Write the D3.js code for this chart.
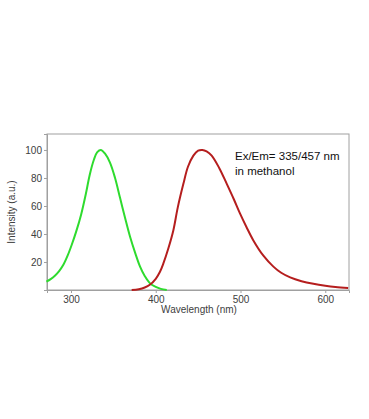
<!DOCTYPE html>
<html><head><meta charset="utf-8">
<script src="https://cdn.jsdelivr.net/npm/d3@7"></script>
<style>body{margin:0;background:#fff;} text{font-family:"Liberation Sans",Arial,sans-serif;}</style>
</head><body>
<svg id="c" width="369" height="419"></svg>
<script>
const xTicks = [300, 400, 500, 600];
const yTicks = [20, 40, 60, 80, 100];
const exWl = [271, 276, 281, 286, 291, 296, 301, 306, 312, 318, 322, 327, 331, 335.4, 340, 346, 352, 357.8, 364, 369.7, 376, 381.5, 387, 393, 400, 406, 413];
const exInt = [6, 7.8, 10.2, 13.5, 18, 24.5, 32.5, 41.5, 54, 70, 82, 93, 98.5, 100, 97.5, 91, 80, 66, 51, 38, 26, 16.7, 10, 4.9, 2.2, 0.8, 0];
const emWl = [371.6, 380, 387, 393, 400, 405, 409, 415, 420.8, 426, 432.6, 438, 444.4, 450, 455, 460, 466, 475, 483.8, 492, 499.5, 507, 515, 527, 538.8, 548, 558.6, 572, 586, 600, 612, 627];
const emInt = [0, 0.6, 1.8, 3.7, 8, 13, 19, 30, 42.7, 59, 75.8, 88, 96, 99.5, 100, 99, 96, 87, 75.8, 65, 54.5, 45, 35.6, 24.5, 16.7, 12.3, 9.0, 6.3, 4.4, 3.0, 2.1, 1.4];
const annot = ["Ex/Em= 335/457 nm", "in methanol"];

const svg = d3.select("#c");
const L = 47, R = 349, T = 134, B = 290;
const x = d3.scaleLinear().domain([271.7, 628]).range([L, R]);
const y = d3.scaleLinear().domain([0, 111.4]).range([B, T]);

svg.append("rect").attr("x", L).attr("y", T).attr("width", R - L).attr("height", B - T)
  .attr("fill", "none").attr("stroke", "#a0a0a0").attr("stroke-width", 1);

const xa = svg.append("g").attr("transform", `translate(0,${B})`)
  .call(d3.axisBottom(x).tickValues(xTicks).tickSize(3).tickPadding(3).tickFormat(d3.format("d")));
const ya = svg.append("g").attr("transform", `translate(${L},0)`)
  .call(d3.axisLeft(y).tickValues(yTicks).tickSize(3).tickPadding(2).tickFormat(d3.format("d")));
[xa, ya].forEach(a => {
  a.select(".domain").attr("stroke", "#a0a0a0");
  a.selectAll(".tick line").attr("stroke", "#a0a0a0");
  a.selectAll("text").attr("fill", "#404040").style("font-size", "10px")
    .style("font-family", '"Liberation Sans",Arial,sans-serif');
});

const line = d3.line().x(d => x(d[0])).y(d => y(d[1])).curve(d3.curveCatmullRom.alpha(0.5));
svg.append("path").datum(exWl.map((w, i) => [w, exInt[i]])).attr("d", line)
  .attr("fill", "none").attr("stroke", "#2edb2e").attr("stroke-width", 2);
svg.append("path").datum(emWl.map((w, i) => [w, emInt[i]])).attr("d", line)
  .attr("fill", "none").attr("stroke", "#b51e1e").attr("stroke-width", 2);

svg.append("text").attr("x", (L + R) / 2 + 1).attr("y", 313).attr("text-anchor", "middle")
  .attr("fill", "#404040").style("font-size", "10px").text("Wavelength (nm)");
svg.append("text").attr("transform", `translate(15,${(T + B) / 2}) rotate(-90)`).attr("text-anchor", "middle")
  .attr("fill", "#404040").style("font-size", "10px").text("Intensity (a.u.)");

annot.forEach((t, i) => {
  svg.append("text").attr("x", 235).attr("y", 160 + i * 14.5).attr("fill", "#111")
    .style("font-size", "11.5px").text(t);
});
</script>
</body></html>
